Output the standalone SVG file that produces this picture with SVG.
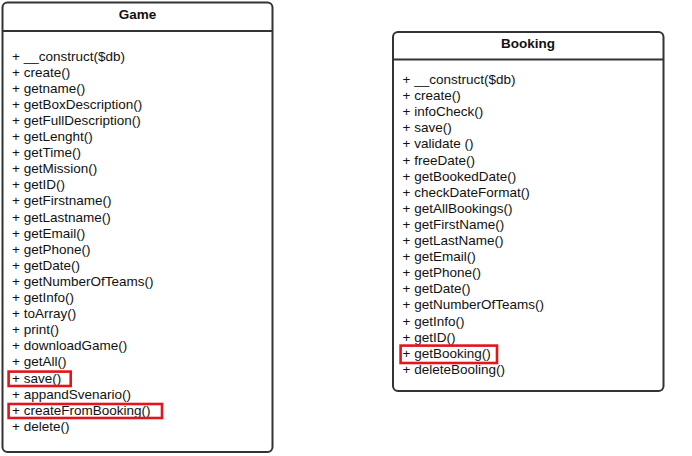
<svg xmlns="http://www.w3.org/2000/svg" width="692" height="456" viewBox="0 0 692 456">
<style>
.box{fill:#fff;stroke:#333;stroke-width:2}
.div{stroke:#333;stroke-width:2}
.title{font-family:"Liberation Sans",Arial,sans-serif;font-size:13.5px;font-weight:bold;fill:#111;text-anchor:middle}
.m{font-family:"Liberation Sans",Arial,sans-serif;font-size:13.5px;fill:#111}
.hl{fill:none;stroke:#e3141c;stroke-width:2.6}
</style>
<rect width="692" height="456" fill="#fff"/>
<g id="game">
<rect class="box" x="2.5" y="2.5" width="270" height="449.5" rx="5"/>
<line class="div" x1="2.5" y1="31" x2="272.5" y2="31"/>
<text class="title" x="137.5" y="18.5">Game</text>
<text class="m" x="12" y="60.5">+ __construct($db)</text>
<text class="m" x="12" y="76.6">+ create()</text>
<text class="m" x="12" y="92.7">+ getname()</text>
<text class="m" x="12" y="108.8">+ getBoxDescription()</text>
<text class="m" x="12" y="124.9">+ getFullDescription()</text>
<text class="m" x="12" y="141">+ getLenght()</text>
<text class="m" x="12" y="157.1">+ getTime()</text>
<text class="m" x="12" y="173.2">+ getMission()</text>
<text class="m" x="12" y="189.3">+ getID()</text>
<text class="m" x="12" y="205.4">+ getFirstname()</text>
<text class="m" x="12" y="221.5">+ getLastname()</text>
<text class="m" x="12" y="237.6">+ getEmail()</text>
<text class="m" x="12" y="253.7">+ getPhone()</text>
<text class="m" x="12" y="269.8">+ getDate()</text>
<text class="m" x="12" y="285.9">+ getNumberOfTeams()</text>
<text class="m" x="12" y="302">+ getInfo()</text>
<text class="m" x="12" y="318.1">+ toArray()</text>
<text class="m" x="12" y="334.2">+ print()</text>
<text class="m" x="12" y="350.3">+ downloadGame()</text>
<text class="m" x="12" y="366.4">+ getAll()</text>
<text class="m" x="12" y="382.5">+ save()</text>
<text class="m" x="12" y="398.6">+ appandSvenario()</text>
<text class="m" x="12" y="414.7">+ createFromBooking()</text>
<text class="m" x="12" y="430.8">+ delete()</text>
<rect class="hl" x="8.6" y="371.6" width="62.1" height="14.4"/>
<rect class="hl" x="8.6" y="404" width="153.4" height="14"/>
</g>
<g id="booking">
<rect class="box" x="393" y="32" width="270.5" height="359" rx="5"/>
<line class="div" x1="393" y1="59.5" x2="663.5" y2="59.5"/>
<text class="title" x="528" y="48">Booking</text>
<text class="m" x="402.5" y="84">+ __construct($db)</text>
<text class="m" x="402.5" y="100.1">+ create()</text>
<text class="m" x="402.5" y="116.2">+ infoCheck()</text>
<text class="m" x="402.5" y="132.3">+ save()</text>
<text class="m" x="402.5" y="148.4">+ validate ()</text>
<text class="m" x="402.5" y="164.5">+ freeDate()</text>
<text class="m" x="402.5" y="180.6">+ getBookedDate()</text>
<text class="m" x="402.5" y="196.7">+ checkDateFormat()</text>
<text class="m" x="402.5" y="212.8">+ getAllBookings()</text>
<text class="m" x="402.5" y="228.9">+ getFirstName()</text>
<text class="m" x="402.5" y="245">+ getLastName()</text>
<text class="m" x="402.5" y="261.1">+ getEmail()</text>
<text class="m" x="402.5" y="277.2">+ getPhone()</text>
<text class="m" x="402.5" y="293.3">+ getDate()</text>
<text class="m" x="402.5" y="309.4">+ getNumberOfTeams()</text>
<text class="m" x="402.5" y="325.5">+ getInfo()</text>
<text class="m" x="402.5" y="341.6">+ getID()</text>
<text class="m" x="402.5" y="357.7">+ getBooking()</text>
<text class="m" x="402.5" y="373.8">+ deleteBooling()</text>
<rect class="hl" x="400.6" y="345.6" width="96.4" height="17.4"/>
</g>
<g id="connectors"/>
</svg>
